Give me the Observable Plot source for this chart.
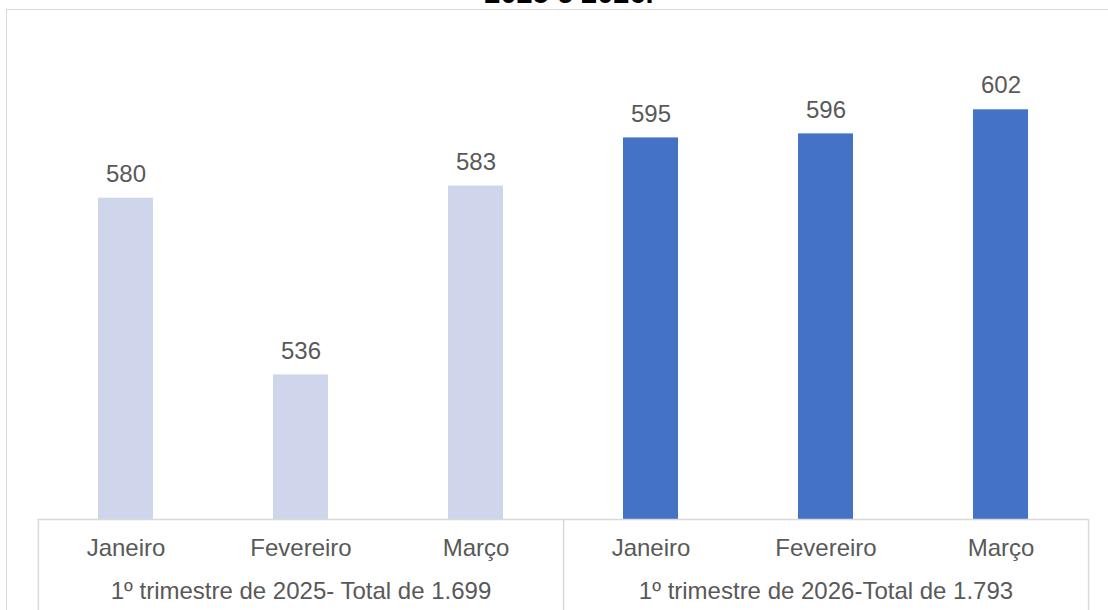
<!DOCTYPE html>
<html>
<head>
<meta charset="utf-8">
<script src="https://cdn.jsdelivr.net/npm/d3@7"></script>
<script src="https://cdn.jsdelivr.net/npm/@observablehq/plot@0.6"></script>
<style>
  html, body { margin: 0; padding: 0; background: #fff; }
  #wrap { position: relative; width: 1108px; height: 610px; overflow: hidden; background: #fff; }
  #border { position: absolute; left: 6px; top: 9px; width: 1200px; height: 700px; border: 1.5px solid #d9d9d9; box-sizing: border-box; }
  #title { position: absolute; left: 15px; width: 1108px; top: -21px; text-align: center; font: bold 29px/28px "Liberation Sans", Arial, sans-serif; color: #000; }
  #chart { position: absolute; left: 0; top: 0; }
  #chart svg { background: transparent !important; }
</style>
</head>
<body>
<div id="wrap">
  <div id="border"></div>
  <div id="chart"></div>
  <div id="title">2025 e 2026.</div>
</div>
<script>
const months = ["Janeiro", "Fevereiro", "Março"];
const groups = ["1º trimestre de 2025- Total de 1.699", "1º trimestre de 2026-Total de 1.793"];
const values2025 = [580, 536, 583];
const values2026 = [595, 596, 602];
const groupColors = ["#CFD5EA", "#4472C4"];
const yMin = 500;
const yMax = 620;

const seriesValues = [values2025, values2026];
const data = groups.flatMap((g, gi) => months.map((m, i) => ({
  key: gi + "-" + m, month: m, group: g, gi, value: seriesValues[gi][i]
})));
const keys = data.map(d => d.key);
const groupLabels = groups.map((g, gi) => ({ key: gi + "-" + months[1], group: g }));

const W = 1108, H = 610, ML = 37, MR = 20, MT = 37, MB = 91;
const step = (W - ML - MR) / keys.length;
const boundaries = [
  { key: keys[0], dx: -step / 2 },
  { key: keys[2], dx: step / 2 },
  { key: keys[5], dx: step / 2 }
];
const lineColor = "#d9d9d9";
const textColor = "#595959";

const chart = Plot.plot({
  width: W, height: H,
  marginLeft: ML, marginRight: MR, marginTop: MT, marginBottom: MB,
  style: { fontFamily: "'Liberation Sans', Arial, sans-serif", background: "transparent", overflow: "visible" },
  x: { domain: keys, paddingInner: 0.686, paddingOuter: 0.343, axis: null },
  y: { domain: [yMin, yMax], axis: null },
  color: { domain: groups, range: groupColors },
  marks: [
    Plot.barY(data, { x: "key", y1: yMin, y2: "value", fill: "group" }),
    Plot.text(data, { x: "key", y: "value", text: d => String(d.value), dy: -24, fontSize: 24, fill: textColor }),
    Plot.ruleY([yMin], { stroke: lineColor, strokeWidth: 1.5 }),
    ...boundaries.map(b => Plot.ruleX([b], { x: "key", dx: b.dx, stroke: lineColor, strokeWidth: 1.5, insetTop: H - MB - MT, insetBottom: -MB })),
    Plot.text(data, { x: "key", text: "month", frameAnchor: "bottom", dy: 36, fontSize: 24, fill: textColor }),
    Plot.text(groupLabels, { x: "key", text: "group", frameAnchor: "bottom", dy: 79, fontSize: 24, fill: textColor })
  ]
});
document.getElementById("chart").appendChild(chart);
</script>
</body>
</html>
